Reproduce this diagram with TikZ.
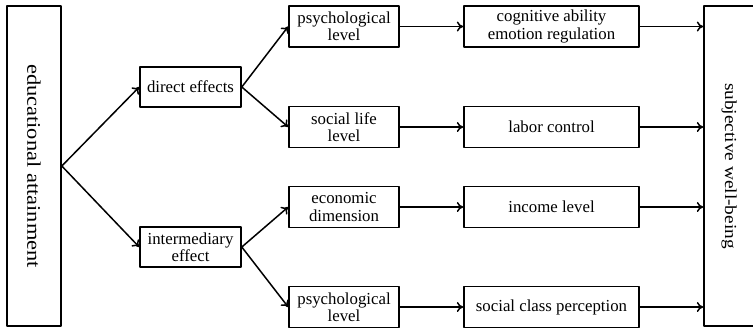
\documentclass[tikz,border=0pt]{standalone}
\usepackage{fontspec}
\setmainfont{Liberation Serif}
\usetikzlibrary{arrows.meta}
\begin{document}
\begin{tikzpicture}[x=0.5pt,y=-0.5pt,line cap=round,line join=round,>={To[length=3.2pt,width=5pt]},
  box/.style={draw,line width=0.8pt,align=center,inner sep=0pt,font=\fontsize{8.4}{8.6}\selectfont},
  midbox/.style={box,minimum width=50.5pt,minimum height=20pt},
  lvlbox/.style={box,minimum width=55pt,minimum height=20.5pt},
  outbox/.style={box,minimum width=87.5pt,minimum height=20.5pt},
  tallbox/.style={box,minimum height=160pt},
  link/.style={line width=0.75pt,->}]
  \useasboundingbox (0,0) rectangle (753,329);
  % side boxes
  \node[tallbox,minimum width=27pt,font=\fontsize{9.6}{10}\selectfont] (edu) at (34,166) {\rotatebox{-90}{\scalebox{1.17}[1]{educational attainment}}};
  \node[tallbox,minimum width=25pt] (swb) at (729,166) {\rotatebox{-90}{\scalebox{1.15}[1]{subjective well-being}}};
  % effect type
  \node[midbox] (direct) at (190.5,87) {direct effects};
  \node[midbox] (inter) at (190.5,247) {intermediary\\effect};
  % levels
  \node[lvlbox] (psyA) at (344,26.5) {psychological\\level};
  \node[lvlbox] (social) at (344,127) {social life\\level};
  \node[lvlbox] (econ) at (344,207) {economic\\dimension};
  \node[lvlbox] (psyB) at (344,307) {psychological\\level};
  % outcomes
  \node[outbox] (cog) at (551.5,26.5) {cognitive ability\\emotion regulation};
  \node[outbox] (labor) at (551.5,127) {labor control};
  \node[outbox] (income) at (551.5,207) {income level};
  \node[outbox] (class) at (551.5,307) {social class perception};
  % connectors
  \draw[link] (edu.east) -- (direct.west);
  \draw[link] (edu.east) -- (inter.west);
  \draw[link] (direct.east) -- (psyA.west);
  \draw[link] (direct.east) -- (social.west);
  \draw[link] (inter.east) -- (econ.west);
  \draw[link] (inter.east) -- (psyB.west);
  \foreach \a/\b in {psyA/cog,social/labor,econ/income,psyB/class}{
    \draw[link] (\a) -- (\b);
    \draw[link] (\b.east) -- (\b.east -| swb.west);
  }
\end{tikzpicture}
\end{document}
